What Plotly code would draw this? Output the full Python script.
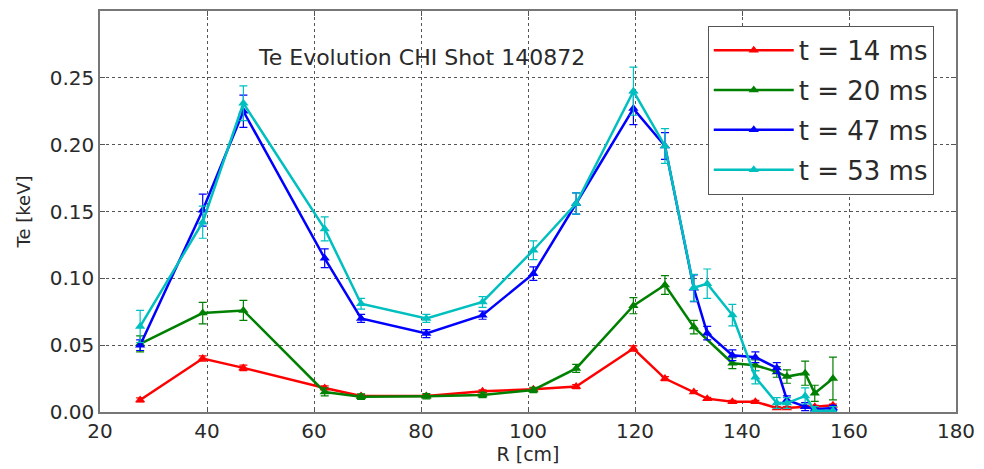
import plotly.graph_objects as go

# Radii [cm]
R_common = [27.5, 39.2, 46.8, 62, 68.8, 81, 91.5, 101, 109, 119.7, 125.6,
            131, 133.5, 138.2, 142.5, 146.5, 148.4, 151.8, 153.6, 157]
R_green = [27.5, 39.2, 46.8, 62, 68.8, 81, 91.5, 101, 109, 119.7, 125.6,
           131, 138.2, 142.5, 146.5, 148.4, 151.8, 153.6, 157]

# Te [keV]
te_14 = [0.009, 0.040, 0.033, 0.018, 0.012, 0.012, 0.0155, 0.017, 0.019, 0.0475, 0.025,
         0.015, 0.010, 0.0077, 0.0077, 0.003, 0.003, 0.004, 0.004, 0.005]
err_14 = [0.0015, 0.002, 0.002, 0.0015, 0.001, 0.001, 0.001, 0.001, 0.0015, 0.002, 0.0015,
          0.001, 0.001, 0.001, 0.001, 0.001, 0.001, 0.001, 0.001, 0.001]

te_20 = [0.051, 0.074, 0.076, 0.015, 0.0115, 0.0118, 0.0127, 0.0165, 0.0326, 0.0795, 0.095,
         0.0635, 0.0365, 0.035, 0.030, 0.0265, 0.029, 0.014, 0.025]
err_20 = [0.006, 0.008, 0.0075, 0.003, 0.002, 0.002, 0.002, 0.002, 0.003, 0.006, 0.007,
          0.005, 0.004, 0.004, 0.004, 0.005, 0.009, 0.006, 0.016]

te_47 = [0.050, 0.151, 0.225, 0.115, 0.070, 0.0587, 0.0724, 0.1035, 0.156, 0.227, 0.199,
         0.0925, 0.059, 0.0425, 0.041, 0.033, 0.009, 0.004, 0.002, 0.003]
err_47 = [0.004, 0.012, 0.012, 0.007, 0.003, 0.003, 0.003, 0.005, 0.008, 0.012, 0.010,
          0.010, 0.005, 0.004, 0.004, 0.004, 0.003, 0.003, 0.002, 0.002]

te_53 = [0.064, 0.142, 0.231, 0.137, 0.081, 0.070, 0.0823, 0.121, 0.156, 0.240, 0.199,
         0.093, 0.096, 0.0725, 0.026, 0.0067, 0.0067, 0.012, 0.001, 0.001]
err_53 = [0.012, 0.012, 0.013, 0.009, 0.004, 0.003, 0.004, 0.007, 0.008, 0.018, 0.013,
          0.010, 0.011, 0.008, 0.005, 0.004, 0.004, 0.006, 0.003, 0.003]

labels = ["t = 14 ms", "t = 20 ms", "t = 47 ms", "t = 53 ms"]
colors = ["#ff0000", "#008000", "#0000ff", "#00bfbf"]

x_ticks = [20, 40, 60, 80, 100, 120, 140, 160, 180]
y_ticks = [0.00, 0.05, 0.10, 0.15, 0.20, 0.25]
y_ticktext = ["0.00", "0.05", "0.10", "0.15", "0.20", "0.25"]

series = [
    (R_common, te_14, err_14),
    (R_green, te_20, err_20),
    (R_common, te_47, err_47),
    (R_common, te_53, err_53),
]

fig = go.Figure()
for (xs, ys, es), lab, col in zip(series, labels, colors):
    fig.add_trace(go.Scatter(
        x=xs, y=ys, name=lab, mode="lines+markers", legendgroup=lab,
        line=dict(color=col, width=2.5),
        marker=dict(symbol="triangle-up", size=9, color=col),
        error_y=dict(type="data", array=es, visible=True, color=col,
                     thickness=1.2, width=4),
    ))

font_family = "DejaVu Sans"
text_color = "#2a2a2a"

fig.add_annotation(
    text="Te Evolution CHI Shot 140872", xref="paper", yref="paper",
    x=0.375, y=0.885, xanchor="center", yanchor="middle", showarrow=False,
    font=dict(family=font_family, size=22, color=text_color),
)

axis_common = dict(
    showline=True, linecolor="#777", linewidth=1.5, mirror="ticks",
    ticks="inside", ticklen=5, tickcolor="#555",
    showgrid=True, gridcolor="#555", griddash="dot", gridwidth=1,
    zeroline=False,
    tickfont=dict(family=font_family, size=20, color=text_color),
)

fig.update_xaxes(range=[20, 180], tickvals=x_ticks,
                 title=dict(text="R [cm]", standoff=4,
                            font=dict(family=font_family, size=19, color=text_color)),
                 **axis_common)
fig.update_yaxes(range=[0, 0.3], tickvals=y_ticks, ticktext=y_ticktext,
                 title=dict(text="Te [keV]", standoff=14,
                            font=dict(family=font_family, size=18, color=text_color)),
                 **axis_common)

fig.update_layout(
    width=984, height=469,
    margin=dict(l=100, r=22, t=9, b=57),
    plot_bgcolor="white", paper_bgcolor="white",
    legend=dict(
        x=0.71, y=0.963, xanchor="left", yanchor="top",
        bordercolor="#555", borderwidth=1, bgcolor="white",
        font=dict(family=font_family, size=26, color=text_color),
        traceorder="grouped", tracegroupgap=3, itemwidth=80,
    ),
)

fig.write_html("out.html", config={"displayModeBar": False},
               post_script="document.body.style.margin='0';")
